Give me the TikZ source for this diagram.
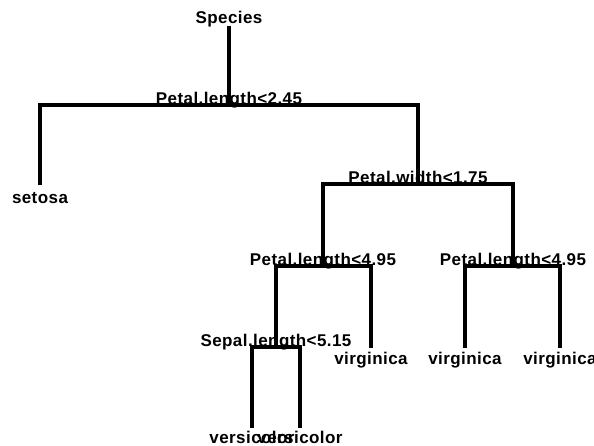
\documentclass[tikz,border=0pt]{standalone}
\usepackage{fontspec}
\setmainfont{Liberation Sans}[LetterSpace=2.5]
\usepackage{tikz}
\usetikzlibrary{positioning, calc}

\tikzset{
  branch/.style={line width=3.2pt},
  splitlbl/.style={font=\bfseries\fontsize{17}{17}\selectfont, inner sep=0pt, anchor=base},
  leaflbl/.style={font=\bfseries\fontsize{17}{17}\selectfont, inner sep=0pt, anchor=base},
}

\begin{document}
\begin{tikzpicture}[x=1pt, y=-1pt]
    \useasboundingbox[fill=white] (0,0) rectangle (594,445);
    % split points and leaf ends
    \coordinate (root) at (229,26);
    \coordinate (plenA) at (229,105);
    \coordinate (pwid) at (418,184);
    \coordinate (plenB) at (323,266);
    \coordinate (plenC) at (513,266);
    \coordinate (slen) at (276,347);
    \coordinate (setosa) at (40,185);
    \coordinate (virgA) at (371,348);
    \coordinate (virgB) at (465,348);
    \coordinate (virgC) at (560,348);
    \coordinate (versA) at (252,428);
    \coordinate (versB) at (300,428);

    % branches
    \draw[branch] (root) -- (plenA);
    \draw[branch] (setosa) |- (plenA) -| (pwid);
    \draw[branch] (plenB) |- (pwid) -| (plenC);
    \draw[branch] (slen) |- (plenB) -| (virgA);
    \draw[branch] (virgB) |- (plenC) -| (virgC);
    \draw[branch] (versA) |- (slen) -| (versB);

    % labels
    \node[splitlbl] (rootlbl) at ($(root)+(0,-3)$) {Species};
    \node[splitlbl] (plenAlbl) at ($(plenA)+(0,-1)$) {Petal.length<2.45};
    \node[splitlbl] (pwidlbl) at ($(pwid)+(0,-1)$) {Petal.width<1.75};
    \node[splitlbl] (plenBlbl) at ($(plenB)+(0,-1)$) {Petal.length<4.95};
    \node[splitlbl] (plenClbl) at ($(plenC)+(0,-1)$) {Petal.length<4.95};
    \node[splitlbl] (slenlbl) at ($(slen)+(0,-1)$) {Sepal.length<5.15};
    \node[leaflbl] (setosalbl) at ($(setosa)+(0,18)$) {setosa};
    \node[leaflbl] (virgAlbl) at ($(virgA)+(0,16)$) {virginica};
    \node[leaflbl] (virgBlbl) at ($(virgB)+(0,16)$) {virginica};
    \node[leaflbl] (virgClbl) at ($(virgC)+(0,16)$) {virginica};
    \node[leaflbl] (versAlbl) at ($(versA)+(0,15)$) {versicolor};
    \node[leaflbl] (versBlbl) at ($(versB)+(0,15)$) {versicolor};
  \end{tikzpicture}
\end{document}
